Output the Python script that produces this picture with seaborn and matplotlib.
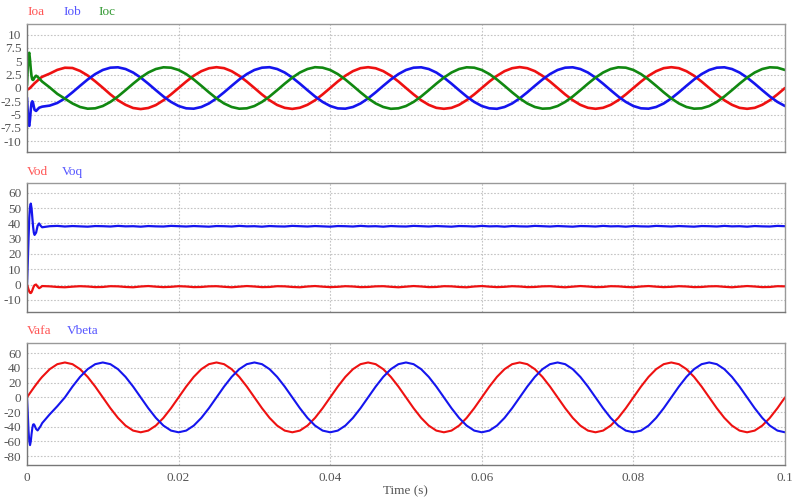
import numpy as np
import matplotlib
matplotlib.use("Agg")
import matplotlib.pyplot as plt
import seaborn as sns

# time axis: fine samples over the start-up transient, then 1 ms samples
t_early = [0, 0.0001, 0.0002, 0.0003, 0.0004, 0.0005, 0.0006, 0.0007, 0.0008,
           0.0009, 0.001, 0.0012, 0.0014, 0.0016, 0.0018, 0.002]
t_main = list(np.arange(3, 101) / 1000)
t = t_early + t_main

# --- panel 1: output currents (A) ---
ioa = [-0.3, -0.25, -0.2, -0.1, 0.0, 0.15, 0.3, 0.45, 0.6, 0.75, 0.9, 1.15, 1.4, 1.65, 1.9, 2.1,
       2.7, 3.4, 3.8, 3.75, 3.2, 2.35, 1.25, 0.05, -1.2, -2.3, -3.15, -3.75, -3.95, -3.75, -3.2, -2.3, -1.2,
       0, 1.2, 2.3, 3.15, 3.7, 3.9, 3.72, 3.15, 2.28, 1.2, 0, -1.22, -2.3, -3.18, -3.72, -3.92, -3.7, -3.15, -2.3, -1.2,
       0, 1.22, 2.3, 3.16, 3.72, 3.9, 3.7, 3.16, 2.3, 1.22, 0, -1.2, -2.3, -3.16, -3.72, -3.9, -3.72, -3.16, -2.28, -1.2,
       0, 1.21, 2.29, 3.16, 3.71, 3.92, 3.71, 3.16, 2.29, 1.21, 0, -1.21, -2.29, -3.16, -3.71, -3.9, -3.71, -3.16, -2.29, -1.21,
       0, 1.2, 2.3, 3.15, 3.72, 3.9, 3.72, 3.15, 2.3, 1.2, 0, -1.2, -2.3, -3.15, -3.72, -3.9, -3.72, -3.15, -2.3, -1.2,
       0]
iob = [-1.8, -4.5, -6.8, -7.1, -5.8, -4.0, -2.8, -2.5, -2.8, -3.5, -4.1, -4.3, -4.0, -3.7, -3.6, -3.5,
       -3.3, -2.8, -1.95, -0.81, 0.41, 1.59, 2.61, 3.38, 3.81, 3.88, 3.56, 2.9, 1.95, 0.81, -0.41, -1.59, -2.61,
       -3.38, -3.81, -3.88, -3.56, -2.9, -1.95, -0.81, 0.41, 1.59, 2.61, 3.38, 3.81, 3.9, 3.56, 2.9, 1.95, 0.81, -0.41, -1.59, -2.61,
       -3.38, -3.82, -3.88, -3.56, -2.9, -1.95, -0.81, 0.41, 1.59, 2.61, 3.38, 3.81, 3.88, 3.56, 2.9, 1.95, 0.81, -0.41, -1.59, -2.61,
       -3.38, -3.81, -3.9, -3.56, -2.9, -1.95, -0.81, 0.41, 1.59, 2.61, 3.38, 3.81, 3.88, 3.56, 2.9, 1.95, 0.81, -0.41, -1.59, -2.61,
       -3.38, -3.81, -3.88, -3.56, -2.9, -1.95, -0.81, 0.41, 1.59, 2.61, 3.38, 3.81, 3.88, 3.56, 2.9, 1.95, 0.81, -0.41, -1.59, -2.61,
       -3.38]
ioc = [0.5, 4.0, 6.3, 6.6, 5.2, 3.5, 2.2, 1.6, 1.5, 1.7, 2.0, 2.3, 2.1, 1.8, 1.5, 1.2,
       0.1, -1.1, -2.0, -2.9, -3.56, -3.88, -3.81, -3.38, -2.61, -1.59, -0.41, 0.81, 1.95, 2.9, 3.56, 3.88, 3.81,
       3.38, 2.61, 1.59, 0.41, -0.81, -1.95, -2.9, -3.56, -3.88, -3.81, -3.38, -2.61, -1.59, -0.41, 0.81, 1.95, 2.9, 3.56, 3.9, 3.81,
       3.38, 2.61, 1.59, 0.41, -0.81, -1.95, -2.9, -3.56, -3.9, -3.81, -3.38, -2.61, -1.59, -0.41, 0.81, 1.95, 2.9, 3.56, 3.88, 3.81,
       3.38, 2.61, 1.59, 0.41, -0.81, -1.95, -2.9, -3.56, -3.88, -3.81, -3.38, -2.61, -1.59, -0.41, 0.81, 1.95, 2.9, 3.56, 3.88, 3.81,
       3.38, 2.61, 1.59, 0.41, -0.81, -1.95, -2.9, -3.56, -3.88, -3.81, -3.38, -2.61, -1.59, -0.41, 0.81, 1.95, 2.9, 3.56, 3.88, 3.81,
       3.38]

# --- panel 2: dq voltages (V) ---
vod = [0, -1.5, -3.2, -4.6, -5.4, -5.6, -5.0, -3.8, -2.4, -1.2, -0.4, 0.0, -1.4, -2.4, -1.8, -1.0,
       -1.2, -1.6, -1.8, -1.4, -1.1, -1.3, -1.7, -1.6, -1.1, -1.2,
       -1.6, -1.8, -1.3, -1.0, -1.4, -1.7, -1.5, -1.1, -1.3, -1.7,
       -1.6, -1.2, -1.1, -1.5, -1.8, -1.4, -1.0, -1.3, -1.7, -1.6,
       -1.1, -1.2, -1.6, -1.8, -1.3, -1.0, -1.4, -1.7, -1.5, -1.1,
       -1.3, -1.7, -1.6, -1.2, -1.1, -1.5, -1.8, -1.4, -1.0, -1.3,
       -1.7, -1.6, -1.1, -1.2, -1.6, -1.8, -1.3, -1.0, -1.4, -1.7,
       -1.5, -1.1, -1.3, -1.7, -1.6, -1.2, -1.1, -1.5, -1.8, -1.4,
       -1.0, -1.3, -1.7, -1.6, -1.1, -1.2, -1.6, -1.8, -1.3, -1.0,
       -1.4, -1.7, -1.5, -1.1, -1.3, -1.7, -1.6, -1.2, -1.1, -1.5,
       -1.8, -1.4, -1.0, -1.3, -1.7, -1.6, -1.1, -1.2]
voq = [0, 14, 30, 44, 51, 53, 50, 44, 38, 34, 32.5, 34, 38.5, 40, 38.5, 37.5,
       38.2, 38.4, 38.0, 38.3, 38.1, 37.9, 38.3, 38.2, 38.0, 38.4,
       38.1, 38.2, 37.9, 38.3, 38.1, 38.0, 38.4, 38.2, 38.0, 38.3,
       38.1, 37.9, 38.3, 38.2, 38.0, 38.4, 38.1, 38.2, 37.9, 38.3,
       38.1, 38.0, 38.4, 38.2, 38.0, 38.3, 38.1, 37.9, 38.3, 38.2,
       38.0, 38.4, 38.1, 38.2, 37.9, 38.3, 38.1, 38.0, 38.4, 38.2,
       38.0, 38.3, 38.1, 37.9, 38.3, 38.2, 38.0, 38.4, 38.1, 38.2,
       37.9, 38.3, 38.1, 38.0, 38.4, 38.2, 38.0, 38.3, 38.1, 37.9,
       38.3, 38.2, 38.0, 38.4, 38.1, 38.2, 37.9, 38.3, 38.1, 38.0,
       38.4, 38.2, 38.0, 38.3, 38.1, 37.9, 38.3, 38.2, 38.0, 38.4,
       38.1, 38.2, 37.9, 38.3, 38.1, 38.0, 38.4, 38.2]

# --- panel 3: alpha-beta voltages (V) ---
vafa = [0, 1.5, 3.0, 4.5, 6.0, 7.4, 8.9, 10.4, 11.8, 13.3, 14.7, 17.5, 20.2, 22.9, 25.5, 27.9,
        38.4, 45.2, 47.5, 45.2, 38.4, 27.9, 14.7, 0, -14.7, -27.9, -38.4, -45.2, -47.5, -45.2, -38.4, -27.9, -14.7,
        0, 14.7, 27.9, 38.4, 45.2, 47.5, 45.2, 38.4, 27.9, 14.7, 0, -14.7, -27.9, -38.4, -45.2, -47.5, -45.2, -38.4, -27.9, -14.7,
        0, 14.7, 27.9, 38.4, 45.2, 47.5, 45.2, 38.4, 27.9, 14.7, 0, -14.7, -27.9, -38.4, -45.2, -47.5, -45.2, -38.4, -27.9, -14.7,
        0, 14.7, 27.9, 38.4, 45.2, 47.5, 45.2, 38.4, 27.9, 14.7, 0, -14.7, -27.9, -38.4, -45.2, -47.5, -45.2, -38.4, -27.9, -14.7,
        0, 14.7, 27.9, 38.4, 45.2, 47.5, 45.2, 38.4, 27.9, 14.7, 0, -14.7, -27.9, -38.4, -45.2, -47.5, -45.2, -38.4, -27.9, -14.7,
        0]
vbeta = [0, -20, -45, -60, -65, -60, -50, -42, -37, -36.5, -38, -43, -45, -42, -39, -35,
         -23, -12, 0, 14.7, 27.9, 38.4, 45.2, 47.5, 45.2, 38.4, 27.9, 14.7, 0, -14.7, -27.9, -38.4, -45.2,
         -47.5, -45.2, -38.4, -27.9, -14.7, 0, 14.7, 27.9, 38.4, 45.2, 47.5, 45.2, 38.4, 27.9, 14.7, 0, -14.7, -27.9, -38.4, -45.2,
         -47.5, -45.2, -38.4, -27.9, -14.7, 0, 14.7, 27.9, 38.4, 45.2, 47.5, 45.2, 38.4, 27.9, 14.7, 0, -14.7, -27.9, -38.4, -45.2,
         -47.5, -45.2, -38.4, -27.9, -14.7, 0, 14.7, 27.9, 38.4, 45.2, 47.5, 45.2, 38.4, 27.9, 14.7, 0, -14.7, -27.9, -38.4, -45.2,
         -47.5, -45.2, -38.4, -27.9, -14.7, 0, 14.7, 27.9, 38.4, 45.2, 47.5, 45.2, 38.4, 27.9, 14.7, 0, -14.7, -27.9, -38.4, -45.2,
         -47.5]

x_ticks = [0, 0.02, 0.04, 0.06, 0.08, 0.1]
x_ticklabels = ["0", "0.02", "0.04", "0.06", "0.08", "0.1"]

sns.set_style("white")
plt.rcParams['font.family'] = ['Liberation Serif', 'DejaVu Serif']

RED, BLUE, GREEN = "#ee1111", "#1515ee", "#118811"
LABEL_COLORS = {RED: "#ff5555", BLUE: "#5555ff", GREEN: "#339933"}
TXT = "#555555"

fig = plt.figure(figsize=(7.93, 4.99), dpi=100)
W, H = 793, 499

def make_axes(top_px, bottom_px):
    return fig.add_axes([27 / W, 1 - bottom_px / H, (785 - 27) / W, (bottom_px - top_px) / H])

ax1 = make_axes(24, 152)
ax2 = make_axes(183, 312)
ax3 = make_axes(343, 465)

panels = [
    (ax1, [("Ioa", ioa, RED), ("Iob", iob, BLUE), ("Ioc", ioc, GREEN)], (-12, 12),
     [-10, -7.5, -5, -2.5, 0, 2.5, 5, 7.5, 10], [27, 63, 98], 12, 1.9),
    (ax2, [("Vod", vod, RED), ("Voq", voq, BLUE)], (-18, 66.5),
     [-10, 0, 10, 20, 30, 40, 50, 60], [27, 62], 172, 1.6),
    (ax3, [("Vafa", vafa, RED), ("Vbeta", vbeta, BLUE)], (-92, 74),
     [-80, -60, -40, -20, 0, 20, 40, 60], [27, 67], 331, 1.5),
]

for ax, series, ylim, yticks, label_x, label_y, lw in panels:
    for (name, vals, col), lx in zip(series, label_x):
        sns.lineplot(x=t, y=vals, ax=ax, color=col, linewidth=lw, estimator=None, sort=False)
        fig.text(lx / W, 1 - label_y / H, name, color=LABEL_COLORS[col], fontsize=9.5,
                 va="center", ha="left")
    ax.set_xlim(0, 0.1)
    ax.set_ylim(*ylim)
    ax.set_yticks(yticks)
    ax.set_yticklabels([f"{v:g}" for v in yticks])
    ax.set_xticks(x_ticks)
    ax.grid(True, linestyle=(0, (1.5, 1.5)), color="#c4c4c4", linewidth=0.8)
    ax.tick_params(axis="both", length=0, labelsize=9.5, labelcolor=TXT, pad=4)
    ax.set_xlabel("")
    ax.set_ylabel("")
    for side, sp in ax.spines.items():
        sp.set_color("#999999" if side in ("top", "right") else "#777777")
        sp.set_linewidth(1.0)
    if ax is not ax3:
        ax.set_xticklabels([])

ax3.set_xticklabels(x_ticklabels)
ax3.tick_params(axis="x", pad=5)
fig.text(405 / W, 1 - 491 / H, "Time (s)", color=TXT, fontsize=9.5, ha="center", va="center")

plt.savefig("out.png", dpi=100)
